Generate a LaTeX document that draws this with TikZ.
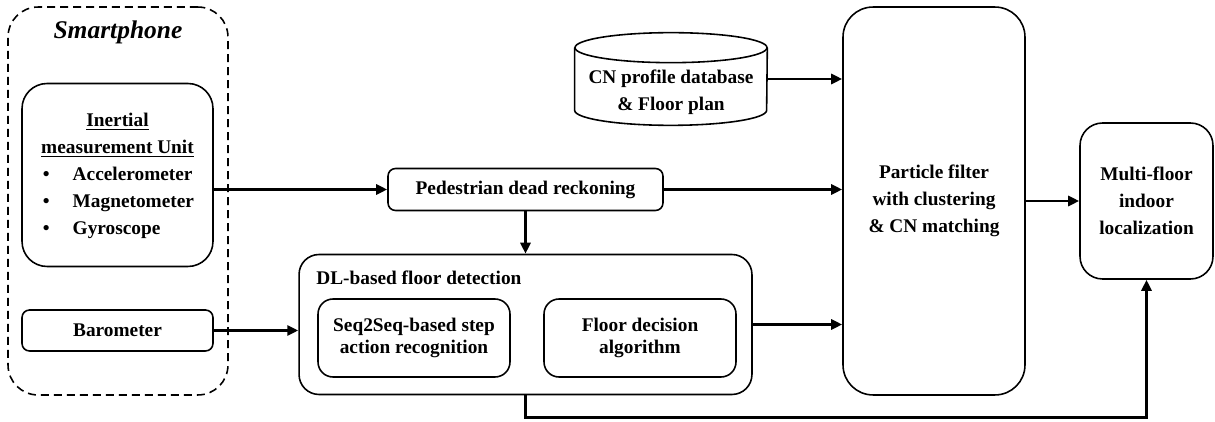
\documentclass[tikz,border=0pt]{standalone}
\usepackage{fontspec}
\setmainfont{Liberation Serif}
\usetikzlibrary{arrows.meta,positioning}

\begin{document}
\begin{tikzpicture}[x=0.02cm,y=-0.02cm,
    font=\fontsize{11}{15.3}\selectfont\bfseries,
    txt/.style={align=center,inner sep=1pt},
    box/.style={draw,line width=0.9pt,rounded corners=#1,align=center,inner sep=2pt},
    box/.default=0.3cm,
    flow/.style={-{Triangle[length=0.22cm,width=0.2cm]},line width=1.7pt}]

  \useasboundingbox (0,0) rectangle (1215,422);

  % smartphone side
  \node[box=0.6cm,dash pattern=on 0.16cm off 0.1cm,minimum width=4.4cm,minimum height=7.76cm] (phone) at (118,201) {};
  \node[txt,font=\fontsize{14.5}{16}\selectfont\bfseries\itshape] (phonetitle) at ([yshift=-0.52cm]phone.north) {Smartphone};
  \node[box=0.5cm,minimum width=3.82cm,minimum height=3.66cm] (imu) at (117.5,175) {\begin{tabular}{@{\hspace{0.04cm}}l@{\hspace{0.46cm}}l@{}}
      \multicolumn{2}{@{}c@{}}{\underline{Inertial}}\\
      \multicolumn{2}{@{}c@{}}{\underline{measurement Unit}}\\
      \textbullet & Accelerometer\\
      \textbullet & Magnetometer\\
      \textbullet & Gyroscope
    \end{tabular}};
  \node[box=0.15cm,minimum width=3.82cm,minimum height=0.82cm] (baro) at (117.5,330.5) {Barometer};

  % processing
  \node[box=0.15cm,minimum width=5.5cm,minimum height=0.84cm] (pdr) at (525.5,189.5) {Pedestrian dead reckoning};
  \node[box=0.4cm,minimum width=9.06cm,minimum height=2.8cm] (dl) at (525.5,324.5) {};
  \node[txt,anchor=west] (dltitle) at ([xshift=0.32cm,yshift=-0.48cm]dl.north west) {DL-based floor detection};
  \node[box=0.3cm,font=\fontsize{11}{12.8}\selectfont\bfseries,minimum width=3.84cm,minimum height=1.56cm] (seq) at (414,338) {Seq2Seq-based step\\action recognition};
  \node[box=0.3cm,font=\fontsize{11}{12.8}\selectfont\bfseries,minimum width=3.84cm,minimum height=1.56cm] (fda) at (640,338) {Floor decision\\algorithm};

  % database cylinder
  \node[inner sep=0,minimum width=3.84cm,minimum height=1.84cm] (db) at (671,79) {};
  \draw[line width=0.9pt] ([yshift=-0.3cm]db.north west) -- ([yshift=0.3cm]db.south west)
    arc[start angle=180,end angle=360,x radius=1.92cm,y radius=0.3cm] -- ([yshift=-0.3cm]db.north east);
  \draw[line width=0.9pt] ([yshift=-0.3cm]db.north) ellipse[x radius=1.92cm,y radius=0.3cm];
  \node[txt] (dbtext) at ([yshift=-0.27cm]db.center) {CN profile database\\\& Floor plan};

  \node[box=0.6cm,minimum width=3.64cm,minimum height=7.76cm] (pf) at (934,201) {Particle filter\\with clustering\\\& CN matching};
  \node[box=0.45cm,minimum width=2.66cm,minimum height=3.12cm] (multi) at (1146.5,201) {Multi-floor\\indoor\\localization};

  % connectors
  \draw[flow] (pdr.west -| imu.east) -- (pdr.west);
  \draw[flow] (baro.east) -- (baro.east -| dl.west);
  \draw[flow] (pdr.south) -- (dl.north);
  \draw[flow] (db.east) -- (db.east -| pf.west);
  \draw[flow] (pdr.east) -- (pdr.east -| pf.west);
  \draw[flow] (dl.east) -- (dl.east -| pf.west);
  \draw[flow] (pf.east |- multi.west) -- (multi.west);
  \draw[flow] (dl.south) -- ++(0,22) -| (multi.south);
\end{tikzpicture}
\end{document}
